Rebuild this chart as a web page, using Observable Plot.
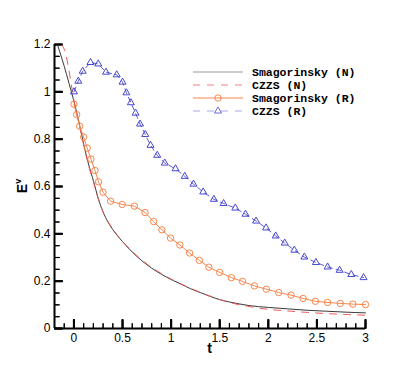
<!DOCTYPE html>
<html><head><meta charset="utf-8">
<script src="https://cdn.jsdelivr.net/npm/d3@7"></script>
<script src="https://cdn.jsdelivr.net/npm/@observablehq/plot@0.6"></script>
<style>body{margin:0;background:#fff}#chart{width:415px;height:369px}</style>
</head><body><div id="chart"></div>
<script>
const seriesNames = ["Smagorinsky (N)", "CZZS (N)", "Smagorinsky (R)", "CZZS (R)"];
const seriesColors = ["#3a3a3a", "#ee5a5a", "#f7864c", "#4848cc"];

const smagN_t = [-0.17,-0.1,-0.05,0,0.05,0.1,0.15,0.2,0.25,0.3,0.35,0.4,0.5,0.6,0.7,0.8,0.9,1.0,1.1,1.2,1.3,1.4,1.5,1.6,1.7,1.8,2.0,2.2,2.4,2.6,2.8,3.0];
const smagN_E = [1.2,1.108,1.035,0.96,0.875,0.78,0.695,0.625,0.55,0.492,0.45,0.418,0.367,0.323,0.286,0.255,0.229,0.207,0.188,0.168,0.152,0.136,0.122,0.112,0.104,0.097,0.089,0.083,0.077,0.073,0.069,0.066];

const czzsN_t = [-0.126,-0.085,-0.058,-0.034,0,0.05,0.1,0.15,0.2,0.25,0.3,0.35,0.4,0.5,0.6,0.7,0.8,0.9,1.0,1.2,1.4,1.6,1.8,2.0,2.2,2.4,2.6,2.8,3.0];
const czzsN_E = [1.2,1.161,1.107,1.048,0.965,0.87,0.775,0.69,0.62,0.548,0.492,0.452,0.42,0.369,0.326,0.289,0.258,0.232,0.209,0.17,0.137,0.11,0.093,0.081,0.074,0.068,0.063,0.059,0.056];

const smagR_t = [0,0.028,0.059,0.1,0.137,0.175,0.216,0.253,0.299,0.377,0.497,0.622,0.732,0.82,0.905,0.994,1.09,1.19,1.29,1.388,1.5,1.62,1.735,1.857,1.98,2.107,2.234,2.358,2.484,2.61,2.741,2.87,3.0];
const smagR_E = [0.948,0.904,0.855,0.809,0.762,0.716,0.668,0.62,0.576,0.538,0.524,0.517,0.49,0.452,0.417,0.382,0.353,0.319,0.288,0.259,0.237,0.215,0.199,0.18,0.166,0.152,0.141,0.127,0.115,0.11,0.106,0.103,0.101];

const czzsR_t = [0,0.045,0.09,0.17,0.25,0.33,0.44,0.5,0.54,0.586,0.634,0.68,0.734,0.788,0.857,0.935,1.045,1.14,1.23,1.33,1.44,1.54,1.66,1.765,1.874,1.977,2.076,2.169,2.268,2.371,2.49,2.61,2.734,2.854,2.98];
const czzsR_E = [1.0,1.045,1.087,1.124,1.118,1.083,1.072,1.041,0.996,0.954,0.91,0.864,0.82,0.774,0.732,0.699,0.675,0.643,0.61,0.577,0.546,0.528,0.509,0.483,0.454,0.425,0.391,0.361,0.331,0.302,0.279,0.26,0.246,0.228,0.215];

const xTicks = [0, 0.5, 1, 1.5, 2, 2.5, 3];
const xTickLabels = ["0", "0.5", "1", "1.5", "2", "2.5", "3"];
const yTicks = [0, 0.2, 0.4, 0.6, 0.8, 1, 1.2];
const yTickLabels = ["0", "0.2", "0.4", "0.6", "0.8", "1", "1.2"];
const xMinor = d3.range(-1, 31).map(i => i / 10);
const yMinor = d3.range(0, 25).map(i => i / 20);

const W = 415, H = 369, mL = 54, mR = 50, mT = 44, mB = 41;
const frameW = W - mL - mR, frameH = H - mT - mB;
const xDom = [-0.2, 3], yDom = [0, 1.2];
const yPerPx = (yDom[1] - yDom[0]) / frameH;
const xPerPx = (xDom[1] - xDom[0]) / frameW;

const rows = (t, E) => t.map((v, i) => ({t: v, E: E[i]}));
const blank = () => "";

const plot = Plot.plot({
  width: W, height: H,
  marginLeft: mL, marginRight: mR, marginTop: mT, marginBottom: mB,
  x: {domain: xDom},
  y: {domain: yDom},
  style: {fontFamily: "'Liberation Sans', Arial, sans-serif", fontSize: "12px", color: "#000", background: "#fff", overflow: "visible"},
  marks: [
    Plot.axisX(xTicks, {tickSize: 0, tickPadding: 5, tickFormat: d => xTickLabels[xTicks.indexOf(d)], label: null}),
    Plot.axisY(yTicks, {tickSize: 0, tickPadding: 4, tickFormat: d => yTickLabels[yTicks.indexOf(d)], label: null}),
    // inward ticks: top/right-anchored axes shifted onto the bottom/left frame edges
    Plot.axisX(xMinor, {anchor: "top", tickSize: 5, dy: frameH, tickFormat: blank, label: null}),
    Plot.axisX(xTicks, {anchor: "top", tickSize: 9, dy: frameH, tickFormat: blank, label: null, strokeWidth: 2}),
    Plot.axisY(yMinor, {anchor: "right", tickSize: 5, dx: -frameW, tickFormat: blank, label: null}),
    Plot.axisY(yTicks, {anchor: "right", tickSize: 8, dx: -frameW, tickFormat: blank, label: null, strokeWidth: 2}),
    Plot.line(rows(smagN_t, smagN_E), {x: "t", y: "E", stroke: seriesColors[0], strokeWidth: 1, curve: "monotone-x"}),
    Plot.line(rows(czzsN_t, czzsN_E), {x: "t", y: "E", stroke: seriesColors[1], strokeWidth: 1, strokeDasharray: "7,7", curve: "monotone-x"}),
    Plot.line(rows(smagR_t, smagR_E), {x: "t", y: "E", stroke: seriesColors[2], strokeWidth: 1}),
    Plot.dot(rows(smagR_t, smagR_E), {x: "t", y: "E", r: 3.2, stroke: seriesColors[2], fill: "none", strokeWidth: 1}),
    Plot.line(rows(czzsR_t, czzsR_E), {x: "t", y: "E", stroke: "#5a5ad8", strokeWidth: 1, strokeDasharray: "5,4"}),
    Plot.dot(rows(czzsR_t, czzsR_E), {x: "t", y: "E", symbol: "triangle", r: 2.6, stroke: seriesColors[3], fill: "none", strokeWidth: 1}),
    Plot.ruleY([0], {stroke: "black", strokeWidth: 2}),
    Plot.ruleX([xDom[0]], {stroke: "black", strokeWidth: 2}),
    // same inward ticks as short rules
    Plot.ruleX(xMinor, {x: d => d, y1: 0, y2: 5 * yPerPx, stroke: "black", strokeWidth: 1.2}),
    Plot.ruleX(xTicks, {x: d => d, y1: 0, y2: 9 * yPerPx, stroke: "black", strokeWidth: 2}),
    Plot.ruleY(yMinor, {y: d => d, x1: xDom[0], x2: xDom[0] + 5 * xPerPx, stroke: "black", strokeWidth: 1.2}),
    Plot.ruleY(yTicks, {y: d => d, x1: xDom[0], x2: xDom[0] + 8 * xPerPx, stroke: "black", strokeWidth: 2})
  ]
});
document.getElementById("chart").appendChild(plot);

const svg = d3.select(plot);
svg.append("text").attr("x", 209.5).attr("y", 353).attr("text-anchor", "middle")
  .style("font-weight", "bold").style("font-size", "14px").text("t");
const yl = svg.append("text").attr("transform", "translate(27,186) rotate(-90)")
  .attr("text-anchor", "middle").style("font-weight", "bold").style("font-size", "14px");
yl.append("tspan").text("E");
yl.append("tspan").attr("dy", -6).style("font-size", "9px").text("v");

const lg = svg.append("g").style("font-family", "'Liberation Mono', 'Courier New', monospace")
  .style("font-size", "11.5px").style("font-weight", "bold").attr("text-anchor", "start");
const legendY = [72, 85, 98, 111];
const dashes = [null, "7,7", null, "7,7"];
const lineCols = ["#999", "#f08080", "#f7864c", "#a8a8ee"];
seriesNames.forEach((name, i) => {
  const y = legendY[i];
  lg.append("line").attr("x1", 193).attr("x2", 243).attr("y1", y).attr("y2", y)
    .attr("stroke", lineCols[i]).attr("stroke-width", 1).attr("stroke-dasharray", dashes[i]);
  if (i === 2) lg.append("circle").attr("cx", 218).attr("cy", y).attr("r", 3.2).attr("fill", "none").attr("stroke", seriesColors[2]);
  if (i === 3) lg.append("path").attr("d", d3.symbol(d3.symbolTriangle, Math.PI * 2.6 * 2.6)()).attr("transform", `translate(218,${y})`).attr("fill", "none").attr("stroke", "#6a6ad8");
  lg.append("text").attr("x", 252).attr("y", y).attr("dy", "0.35em").attr("text-anchor", "start").text(name);
});
</script>
</body></html>
